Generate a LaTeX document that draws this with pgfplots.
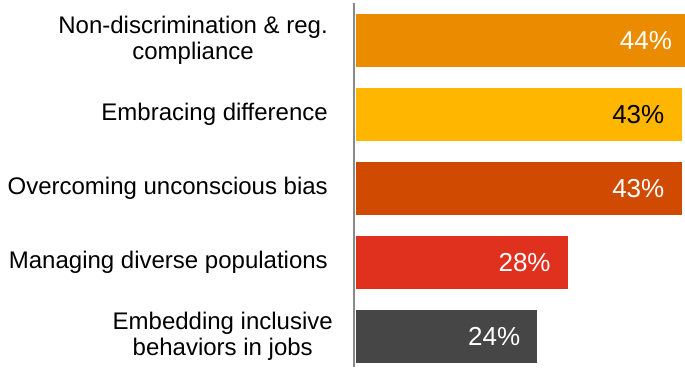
\documentclass[border=0pt]{standalone}
\usepackage{fontspec}
\setmainfont{Liberation Sans}
\usepackage{pgfplots}
\pgfplotsset{compat=1.18}

\definecolor{cTangerine}{HTML}{EB8C00}
\definecolor{cYellow}{HTML}{FFB600}
\definecolor{cOrange}{HTML}{D04A02}
\definecolor{cRed}{HTML}{E0301E}
\definecolor{cGrey}{HTML}{464646}
\definecolor{cAxis}{HTML}{8A8A8A}

\begin{document}
\begin{tikzpicture}
\begin{axis}[
  scale only axis,
  width=336.6pt, height=367pt,
  xmin=-0.4, xmax=44,
  ymin=-0.415, ymax=4.545,
  xbar, bar width=52.7pt, bar shift=0pt,
  axis line style={draw=none},
  tick style={draw=none},
  major tick length=0pt,
  xtick=\empty,
  ytick={0,1,2,3,4},
  yticklabels={
    {Embedding inclusive\hspace*{-5pt}\\behaviors in jobs\hspace*{-5pt}},
    {Managing diverse populations},
    {Overcoming unconscious bias},
    {Embracing difference},
    {Non-discrimination \& reg.\\compliance}},
  yticklabel style={anchor=east, align=center, inner sep=0pt, xshift=-24.5pt,
    font=\fontsize{24}{26}\selectfont},
  /pgf/number format/assume math mode=true,
  nodes near coords={\pgfmathprintnumber{\pgfplotspointmeta}\%},
  every node near coord/.append style={anchor=east, inner sep=0pt, xshift=-17pt,
    font=\fontsize{26}{26}\selectfont},
]
\addplot[fill=cTangerine, draw=none, nodes near coords style={text=white}]
  coordinates {(44,4)};
\addplot[fill=cYellow, draw=none, nodes near coords style={text=black}]
  coordinates {(43,3)};
\addplot[fill=cOrange, draw=none, nodes near coords style={text=white}]
  coordinates {(43,2)};
\addplot[fill=cRed, draw=none, nodes near coords style={text=white}]
  coordinates {(28,1)};
\addplot[fill=cGrey, draw=none, nodes near coords style={text=white}]
  coordinates {(24,0)};
% vertical baseline at the left of the bars
\draw[cAxis, line width=2.6pt] (axis cs:-0.2,-0.415) -- (axis cs:-0.2,4.504);
\end{axis}
% page frame: the longest bar runs past the right edge
\pgfresetboundingbox
\path[use as bounding box] (current axis.south west) ++(-352.5pt,0) rectangle ++(685pt,367pt);
\end{tikzpicture}
\end{document}
